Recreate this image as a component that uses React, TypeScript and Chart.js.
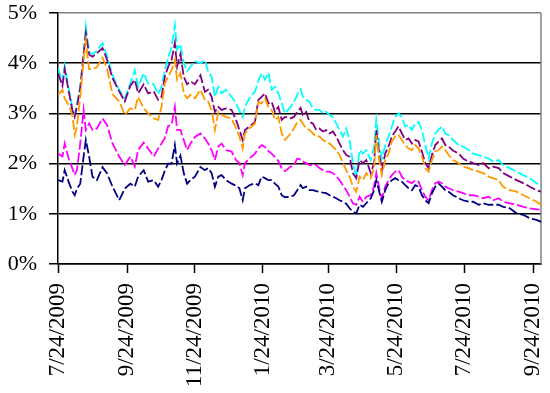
import React, { useEffect, useRef } from 'react';
import { Chart, registerables } from 'chart.js';

Chart.register(...registerables);

const tickLabels = ['7/24/2009', '9/24/2009', '11/24/2009', '1/24/2010', '3/24/2010', '5/24/2010', '7/24/2010', '9/24/2010'];
const yTickValues = [0, 1, 2, 3, 4, 5];

// day offsets from 7/24/2009
const days = [0, 4, 6, 10, 13, 15, 17, 20, 23, 25, 28, 31, 35, 40, 44, 49, 55, 60, 65,
  69, 72, 77, 81, 86, 90, 93, 96, 99, 102, 105, 107, 110, 113, 116, 119, 123, 128, 132,
  135, 138, 141, 144, 147, 151, 156, 160, 163, 166, 168, 172, 177, 180, 183, 186, 189, 192, 195, 198, 201, 204,
  209, 212, 215, 218, 220, 223, 226, 229, 232, 235, 238, 241, 244, 247, 250, 253, 256, 259, 262, 265, 268, 271, 274, 277,
  281, 284, 286, 289, 291, 294, 297, 300, 303, 306, 309, 312, 315, 318, 321, 324, 327, 330, 333, 336, 339, 342, 345, 348, 351, 355, 360, 364, 369, 373, 378, 382, 387, 391, 396, 400, 406, 412, 418, 424, 430, 434];

const cyanSeries = [3.9, 3.62, 3.95, 3.45, 3.1, 2.98, 3.18, 3.55, 4.2, 4.73, 4.22, 4.18, 4.25, 4.4, 4.15, 3.76, 3.47, 3.3, 3.6,
  3.86, 3.53, 3.8, 3.6, 3.58, 3.38, 3.53, 3.86, 4.11, 4.31, 4.76, 4.27, 4.38, 4.0, 3.84, 3.93, 4.04, 4.0, 4.06,
  3.83, 3.73, 3.33, 3.53, 3.4, 3.47, 3.33, 3.2, 3.05, 2.93, 3.13, 3.3, 3.43, 3.65, 3.8, 3.67, 3.81, 3.47, 3.53, 3.4, 3.2, 3.0,
  3.13, 3.23, 3.37, 3.48, 3.33, 3.27, 3.23, 3.1, 3.07, 3.07, 3.0, 3.03, 2.97, 2.93, 2.8, 2.67, 2.54, 2.7, 2.47, 2.01, 1.74, 2.27, 2.2, 2.27,
  2.07, 2.34, 2.87, 2.34, 2.1, 2.37, 2.54, 2.74, 2.93, 3.0, 2.93, 2.74, 2.77, 2.67, 2.8, 2.83, 2.67, 2.37, 2.1, 2.4,
  2.6, 2.67, 2.74, 2.6, 2.57, 2.47, 2.37, 2.34, 2.27, 2.2, 2.17, 2.14, 2.1, 2.04, 2.07, 1.97, 1.91, 1.84, 1.77, 1.71, 1.61, 1.54];

const purpleSeries = [3.8, 3.55, 3.88, 3.4, 3.05, 2.93, 3.13, 3.5, 4.17, 4.6, 4.17, 4.13, 4.2, 4.3, 4.08, 3.7, 3.44, 3.24, 3.55,
  3.67, 3.4, 3.58, 3.4, 3.44, 3.27, 3.33, 3.73, 3.93, 4.06, 4.4, 3.93, 4.18, 3.73, 3.58, 3.64, 3.58, 3.76, 3.43,
  3.47, 3.33, 3.03, 3.13, 3.07, 3.1, 3.07, 2.87, 2.67, 2.47, 2.67, 2.74, 2.83, 3.27, 3.33, 3.4, 3.2, 3.23, 3.03, 3.13, 2.87, 2.93,
  2.9, 2.93, 3.03, 3.11, 2.97, 3.03, 2.83, 2.8, 2.67, 2.7, 2.64, 2.67, 2.6, 2.64, 2.54, 2.4, 2.27, 2.17, 2.14, 1.81, 1.71, 2.07, 2.01, 2.07,
  1.81, 2.01, 2.67, 2.14, 1.87, 2.2, 2.34, 2.54, 2.64, 2.74, 2.6, 2.47, 2.5, 2.4, 2.47, 2.44, 2.24, 2.01, 1.91, 2.17,
  2.37, 2.44, 2.5, 2.37, 2.34, 2.26, 2.2, 2.1, 2.04, 2.01, 1.97, 2.01, 1.91, 1.94, 1.91, 1.81, 1.74, 1.67, 1.61, 1.54, 1.47, 1.44];

const orangeSeries = [3.37, 3.47, 3.3, 3.15, 2.95, 2.57, 2.73, 3.33, 4.06, 4.44, 3.88, 3.88, 3.92, 4.11, 3.9, 3.38, 3.24, 2.97, 3.1,
  3.07, 3.33, 3.1, 3.0, 2.9, 2.87, 3.13, 3.6, 3.73, 3.86, 4.06, 3.67, 3.8, 3.4, 3.3, 3.37, 3.3, 3.47, 3.27,
  3.23, 3.07, 2.67, 3.03, 2.97, 2.93, 2.9, 2.7, 2.54, 2.3, 2.6, 2.7, 2.8, 3.23, 3.2, 3.3, 3.13, 3.07, 2.87, 2.93, 2.6, 2.47,
  2.6, 2.7, 2.83, 2.87, 2.8, 2.7, 2.67, 2.6, 2.54, 2.54, 2.47, 2.44, 2.4, 2.34, 2.27, 2.17, 2.01, 1.87, 1.74, 1.54, 1.44, 1.74, 1.67, 1.81,
  1.71, 1.91, 2.57, 2.01, 1.77, 2.07, 2.2, 2.44, 2.54, 2.57, 2.47, 2.37, 2.3, 2.27, 2.37, 2.3, 2.14, 1.91, 1.84, 2.07,
  2.24, 2.27, 2.34, 2.27, 2.17, 2.07, 2.01, 1.94, 1.91, 1.87, 1.84, 1.81, 1.74, 1.71, 1.67, 1.54, 1.47, 1.44, 1.37, 1.31, 1.24, 1.18];

const magentaSeries = [2.2, 2.14, 2.4, 2.07, 1.9, 1.77, 1.87, 2.4, 3.07, 2.67, 2.8, 2.67, 2.7, 2.9, 2.77, 2.4, 2.14, 1.97, 2.14,
  1.94, 2.27, 2.42, 2.3, 2.14, 2.3, 2.4, 2.51, 2.75, 2.77, 3.13, 2.67, 2.67, 2.47, 2.27, 2.4, 2.53, 2.6, 2.5,
  2.4, 2.27, 2.07, 2.34, 2.4, 2.27, 2.24, 2.07, 2.01, 1.77, 2.01, 2.1, 2.2, 2.3, 2.37, 2.33, 2.25, 2.2, 2.13, 2.05, 1.91, 1.85,
  1.94, 1.97, 2.1, 2.08, 2.04, 2.01, 1.97, 1.97, 1.97, 1.91, 1.87, 1.84, 1.84, 1.81, 1.75, 1.67, 1.57, 1.47, 1.34, 1.21, 1.18, 1.34, 1.24, 1.34,
  1.37, 1.54, 1.81, 1.47, 1.31, 1.54, 1.67, 1.77, 1.84, 1.87, 1.74, 1.67, 1.64, 1.61, 1.67, 1.64, 1.47, 1.34, 1.27, 1.47,
  1.61, 1.64, 1.61, 1.54, 1.51, 1.47, 1.44, 1.41, 1.37, 1.37, 1.34, 1.31, 1.34, 1.27, 1.31, 1.24, 1.21, 1.18, 1.14, 1.11, 1.09, 1.08];

const navySeries = [1.67, 1.64, 1.87, 1.61, 1.44, 1.37, 1.5, 1.6, 2.14, 2.47, 2.14, 1.74, 1.67, 1.93, 1.81, 1.54, 1.27, 1.5, 1.6,
  1.54, 1.74, 1.87, 1.64, 1.67, 1.54, 1.67, 1.86, 2.0, 2.0, 2.37, 2.0, 2.16, 1.81, 1.6, 1.67, 1.74, 1.93, 1.87,
  1.91, 1.81, 1.54, 1.74, 1.77, 1.67, 1.6, 1.56, 1.51, 1.27, 1.51, 1.57, 1.61, 1.57, 1.74, 1.71, 1.67, 1.67, 1.6, 1.54, 1.37, 1.33,
  1.34, 1.37, 1.47, 1.57, 1.51, 1.54, 1.47, 1.47, 1.45, 1.44, 1.42, 1.41, 1.37, 1.34, 1.31, 1.27, 1.24, 1.2, 1.11, 1.04, 1.01, 1.18, 1.14, 1.21,
  1.31, 1.47, 1.67, 1.41, 1.24, 1.47, 1.61, 1.67, 1.71, 1.67, 1.64, 1.57, 1.51, 1.47, 1.57, 1.54, 1.37, 1.27, 1.21, 1.41,
  1.54, 1.6, 1.54, 1.47, 1.44, 1.37, 1.31, 1.27, 1.24, 1.24, 1.18, 1.21, 1.18, 1.18, 1.18, 1.14, 1.11, 1.01, 0.98, 0.91, 0.88, 0.84];

const startUTC = Date.UTC(2009, 6, 24);
const dayOf = (label: string) => {
  const [m, d, y] = label.split('/').map(Number);
  return Math.round((Date.UTC(y, m - 1, d) - startUTC) / 86400000);
};
const tickDays = tickLabels.map(dayOf);

const toPoints = (vals: number[]) => vals.map((v, i) => ({ x: days[i], y: v }));

const FONT = "'Liberation Serif', 'Times New Roman', serif";

export default function App() {
  const ref = useRef<HTMLCanvasElement | null>(null);
  useEffect(() => {
    if (!ref.current) return;
    const frame = {
      id: 'frame',
      beforeDatasetsDraw(chart: any) {
        const { ctx, chartArea } = chart;
        ctx.save();
        ctx.strokeStyle = '#808080';
        ctx.lineWidth = 1.5;
        ctx.beginPath();
        ctx.moveTo(chartArea.right, chartArea.top);
        ctx.lineTo(chartArea.right, chartArea.bottom);
        ctx.stroke();
        ctx.restore();
      },
    };
    const mk = (label: string, vals: number[], color: string) => ({
      label,
      data: toPoints(vals),
      borderColor: color,
      backgroundColor: color,
      borderWidth: 1.8,
      borderDash: [10, 3],
      pointRadius: 0,
      tension: 0,
      fill: false,
    });
    const chart = new Chart(ref.current, {
      type: 'line',
      data: {
        datasets: [
          mk('Navy', navySeries, '#000080'),
          mk('Magenta', magentaSeries, '#FF00FF'),
          mk('Orange', orangeSeries, '#FF9900'),
          mk('Purple', purpleSeries, '#800080'),
          mk('Cyan', cyanSeries, '#00FFFF'),
        ],
      },
      options: {
        animation: false,
        responsive: false,
        layout: { padding: { top: 13, right: 9, left: 0, bottom: 0 } },
        plugins: { legend: { display: false }, tooltip: { enabled: false } },
        scales: {
          x: {
            type: 'linear',
            min: 0,
            max: 434,
            afterBuildTicks: (scale: any) => {
              scale.ticks = tickDays.map((v) => ({ value: v }));
            },
            afterFit: (scale: any) => {
              scale.height = 129;
              scale.paddingLeft = 0;
              scale.paddingRight = 0;
            },
            ticks: {
              autoSkip: false,
              minRotation: 90,
              maxRotation: 90,
              padding: 10,
              color: '#000',
              font: { family: FONT, size: 23 },
              callback: (_v: any, i: number) => tickLabels[i],
            },
            grid: {
              drawOnChartArea: false,
              drawTicks: true,
              tickLength: 9,
              tickColor: '#000',
              tickWidth: 1.5,
            },
            border: { color: '#000', width: 1.5 },
          },
          y: {
            min: 0,
            max: 5,
            afterBuildTicks: (scale: any) => {
              scale.ticks = yTickValues.map((v) => ({ value: v }));
            },
            afterFit: (scale: any) => {
              scale.width = 58;
              scale.paddingTop = 0;
              scale.paddingBottom = 0;
            },
            ticks: {
              padding: 12,
              color: '#000',
              font: { family: FONT, size: 22 },
              callback: (v: any) => v + '%',
            },
            grid: {
              color: (c: any) => (c.tick && c.tick.value === 5 ? '#808080' : '#000'),
              lineWidth: 1.5,
              tickLength: 9,
              tickColor: '#000',
              tickWidth: 1.5,
            },
            border: { color: '#000', width: 1.5 },
          },
        },
      },
      plugins: [frame],
    } as any);
    return () => chart.destroy();
  }, []);
  return (
    <div style={{ position: 'fixed', left: 0, top: 0, width: 550, height: 393, background: '#fff' }}>
      <canvas ref={ref} width={550} height={393} style={{ display: 'block' }} />
    </div>
  );
}
